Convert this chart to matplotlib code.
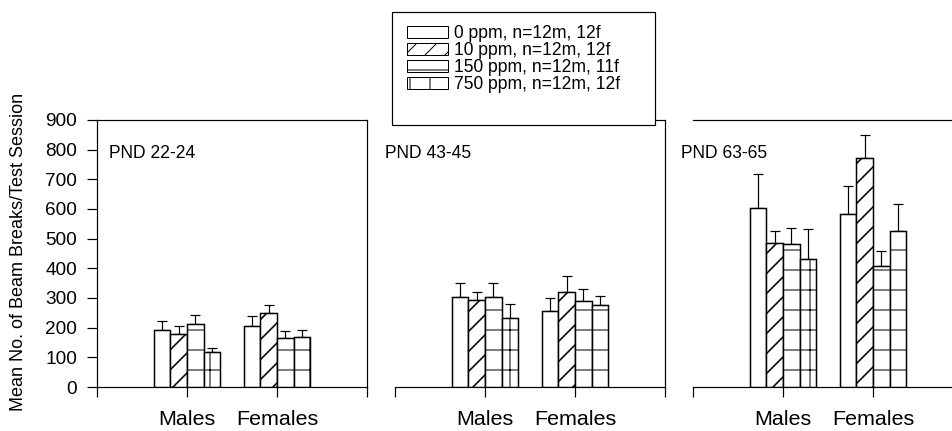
import matplotlib
matplotlib.use("Agg")
import matplotlib.pyplot as plt
from matplotlib.patches import Rectangle, Patch
import numpy as np

DPI = 120
P = 72.0 / DPI  # points per pixel

plt.rcParams['font.family'] = ['Liberation Sans', 'DejaVu Sans']
plt.rcParams['hatch.linewidth'] = 1.0 * P

# ---- data ----
sexes = ['Males', 'Females']
panel_titles = ['PND 22-24', 'PND 43-45', 'PND 63-65']
dose_labels = ['0 ppm, n=12m, 12f', '10 ppm, n=12m, 12f',
               '150 ppm, n=12m, 11f', '750 ppm, n=12m, 12f']
ytick_values = [0, 100, 200, 300, 400, 500, 600, 700, 800, 900]

# rows = sex (Males, Females), cols = dose (0, 10, 150, 750 ppm)
mean_pnd22 = [[192, 178, 211, 118], [207, 248, 164, 168]]
sem_pnd22 = [[31, 29, 31, 13], [33, 30, 25, 24]]
mean_pnd43 = [[302, 293, 302, 234], [256, 321, 291, 275]]
sem_pnd43 = [[47, 28, 47, 45], [45, 53, 40, 32]]
mean_pnd63 = [[605, 487, 482, 431], [583, 773, 409, 526]]
sem_pnd63 = [[113, 38, 55, 102], [95, 76, 49, 90]]

means = [mean_pnd22, mean_pnd43, mean_pnd63]
sems = [sem_pnd22, sem_pnd43, sem_pnd63]

hatches = ['', '//', '-', '+']
hatch_lw_px = [1.0, 1.6, 1.0, 1.0]

# ---- figure ----
W, H = 952, 431
fig = plt.figure(figsize=(W / DPI, H / DPI), dpi=DPI)

panel_left_px = [97, 395, 693]
panel_w_px = 270
bottom_px, top_px = 387, 120
title_left_px = [109, 385, 681]
title_y_px = 153

bar_w = 0.185
for p in range(3):
    ax = fig.add_axes([panel_left_px[p] / W, 1 - bottom_px / H,
                       panel_w_px / W, (bottom_px - top_px) / H])
    ax.set_xlim(0, 3)
    ax.set_ylim(0, 900)
    centers = np.array([1, 2])
    for d in range(4):
        xs = centers + (d - 1.5) * bar_w
        vals = [means[p][s][d] for s in range(2)]
        errs = [sems[p][s][d] for s in range(2)]
        with plt.rc_context({'hatch.linewidth': hatch_lw_px[d] * P}):
            ax.bar(xs, vals, width=bar_w, color='white', edgecolor='black',
                   linewidth=1.5 * P, hatch=hatches[d], zorder=3)
        ax.errorbar(xs, vals, yerr=[np.zeros(2), errs], fmt='none',
                    ecolor='black', elinewidth=1.2 * P, capsize=5 * P,
                    capthick=1.2 * P, zorder=2)
    ax.set_xticks([0, 1, 2, 3])
    ax.set_xticklabels(['', sexes[0], sexes[1], ''], fontsize=21.5 * P)
    ax.tick_params(axis='x', direction='out', length=10 * P, width=1.2 * P,
                   pad=13 * P)
    for sp in ax.spines.values():
        sp.set_linewidth(1.2 * P)
    if p == 0:
        ax.set_yticks(ytick_values)
        ax.tick_params(axis='y', direction='out', length=10 * P,
                       width=1.2 * P, pad=10 * P, labelsize=19 * P)
    else:
        ax.spines['left'].set_visible(False)
        ax.set_yticks([])
    ax.text((title_left_px[p] - panel_left_px[p]) / panel_w_px,
            (bottom_px - title_y_px) / (bottom_px - top_px),
            panel_titles[p], transform=ax.transAxes, ha='left', va='center',
            fontsize=17.5 * P, clip_on=False)

fig.text(19 / W, 1 - 252 / H, 'Mean No. of Beam Breaks/Test Session',
         rotation=90, ha='center', va='center', fontsize=18 * P)

# legend box
box = Rectangle((392 / W, 1 - 125 / H), 263 / W, 113 / H,
                transform=fig.transFigure, facecolor='white',
                edgecolor='black', linewidth=1.2 * P, zorder=4)
fig.add_artist(box)

handles = []
for d in range(4):
    with plt.rc_context({'hatch.linewidth': hatch_lw_px[d] * P}):
        handles.append(Patch(facecolor='white', edgecolor='black',
                             linewidth=1.0 * P, hatch=hatches[d]))
fs_px = 17.5
leg = fig.legend(handles, dose_labels, loc='upper left',
                 bbox_to_anchor=(407 / W, 1 - 25 / H), frameon=False,
                 fontsize=fs_px * P, handlelength=41 / fs_px,
                 handleheight=11 / fs_px, handletextpad=6 / fs_px,
                 labelspacing=0.0, borderpad=0, borderaxespad=0)
leg.set_zorder(5)

fig.savefig('out.png', dpi=DPI)
